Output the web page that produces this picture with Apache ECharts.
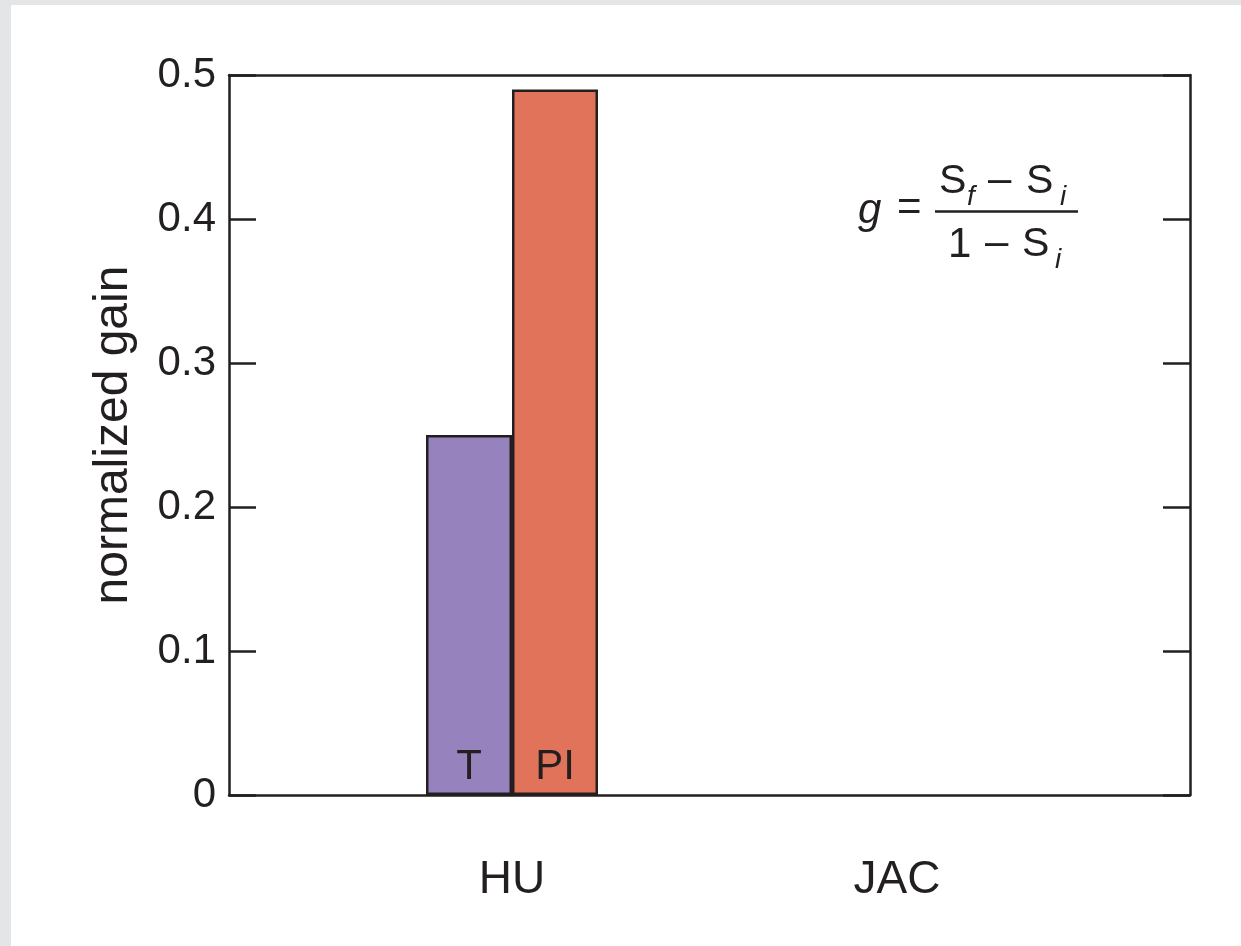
<!DOCTYPE html>
<html>
<head>
<meta charset="utf-8">
<script src="https://cdn.jsdelivr.net/npm/echarts@6/dist/echarts.min.js"></script>
<style>
html,body{margin:0;padding:0;background:#e4e5e6;}
#chart{position:absolute;left:11px;top:5px;width:1230px;height:941px;background:#ffffff;}
</style>
</head>
<body>
<div id="chart"></div>
<script>
// ---- data ----
var categories = ['HU', 'JAC'];
var seriesNames = ['T', 'PI'];
var valuesT = [0.25, '-'];
var valuesPI = [0.49, '-'];
var yTicks = [0, 0.1, 0.2, 0.3, 0.4, 0.5];
var yTitle = 'normalized gain';

var FONT = '"Liberation Sans", Arial, Helvetica, sans-serif';
var INK = '#231f20';
var chart = echarts.init(document.getElementById('chart'));

function yLabel(v) { return v === 0 ? '0' : v.toFixed(1); }

var frameLine = { show: true, onZero: false, lineStyle: { color: INK, width: 2.5 } };

var option = {
  animation: false,
  textStyle: { fontFamily: FONT, color: INK },
  grid: [
    { left: 218, right: 51, top: 70, bottom: 151, containLabel: false },
    { left: 308.5, right: 151.5, top: 70, bottom: 151, containLabel: false }
  ],
  xAxis: [
    { type: 'value', gridIndex: 0, min: 0, max: 1, position: 'bottom',
      axisLine: frameLine,
      axisTick: { show: false }, axisLabel: { show: false }, splitLine: { show: false } },
    { type: 'value', gridIndex: 0, min: 0, max: 1, position: 'top',
      axisLine: frameLine,
      axisTick: { show: false }, axisLabel: { show: false }, splitLine: { show: false } },
    { type: 'category', gridIndex: 1, data: categories,
      axisLine: { show: false }, axisTick: { show: false },
      axisLabel: { fontSize: 46, color: INK, fontFamily: FONT, margin: 62 } }
  ],
  yAxis: [
    { type: 'value', gridIndex: 0, min: yTicks[0], max: yTicks[yTicks.length - 1], interval: 0.1, position: 'left',
      name: yTitle, nameLocation: 'middle', nameGap: 91, nameRotate: 90,
      nameTextStyle: { fontSize: 48, color: INK, fontFamily: FONT },
      axisLine: frameLine,
      axisTick: { show: true, inside: true, length: 27, lineStyle: { color: INK, width: 2.5 } },
      axisLabel: { fontSize: 42, color: INK, fontFamily: FONT, margin: 13, formatter: yLabel },
      splitLine: { show: false } },
    { type: 'value', gridIndex: 0, min: yTicks[0], max: yTicks[yTicks.length - 1], interval: 0.1, position: 'right',
      axisLine: frameLine,
      axisTick: { show: true, inside: true, length: 27, lineStyle: { color: INK, width: 2.5 } },
      axisLabel: { show: false }, splitLine: { show: false } },
    { type: 'value', gridIndex: 1, min: yTicks[0], max: yTicks[yTicks.length - 1],
      show: false }
  ],
  series: [
    { name: seriesNames[0], type: 'bar', xAxisIndex: 2, yAxisIndex: 2, data: valuesT,
      barWidth: 86, barGap: '0%',
      itemStyle: { color: '#9683bd', borderColor: INK, borderWidth: 2.5 },
      label: { show: true, position: 'insideBottom', distance: 7, formatter: '{a}',
               fontSize: 42, color: INK, fontFamily: FONT } },
    { name: seriesNames[1], type: 'bar', xAxisIndex: 2, yAxisIndex: 2, data: valuesPI,
      barWidth: 86, barGap: '0%',
      itemStyle: { color: '#e0735a', borderColor: INK, borderWidth: 2.5 },
      label: { show: true, position: 'insideBottom', distance: 7, formatter: '{a}',
               fontSize: 42, color: INK, fontFamily: FONT } }
  ],
  graphic: [
    { type: 'text', x: 847, y: 206, style: { text: 'g', font: 'italic 42px ' + FONT, fill: INK, verticalAlign: 'middle' } },
    { type: 'text', x: 886, y: 203, style: { text: '=', font: '42px ' + FONT, fill: INK, verticalAlign: 'middle' } },
    { type: 'text', x: 928, y: 177, style: { text: 'S', font: '41px ' + FONT, fill: INK, verticalAlign: 'middle' } },
    { type: 'text', x: 956, y: 192, style: { text: 'f', font: 'italic 28px ' + FONT, fill: INK, verticalAlign: 'middle' } },
    { type: 'text', x: 977, y: 175, style: { text: '\u2013', font: '42px ' + FONT, fill: INK, verticalAlign: 'middle' } },
    { type: 'text', x: 1015, y: 177, style: { text: 'S', font: '41px ' + FONT, fill: INK, verticalAlign: 'middle' } },
    { type: 'text', x: 1049, y: 192, style: { text: 'i', font: 'italic 28px ' + FONT, fill: INK, verticalAlign: 'middle' } },
    { type: 'line', shape: { x1: 924, y1: 206.5, x2: 1067, y2: 206.5 }, style: { stroke: INK, lineWidth: 2.5 } },
    { type: 'text', x: 937, y: 240, style: { text: '1', font: '42px ' + FONT, fill: INK, verticalAlign: 'middle' } },
    { type: 'text', x: 974, y: 238, style: { text: '\u2013', font: '42px ' + FONT, fill: INK, verticalAlign: 'middle' } },
    { type: 'text', x: 1011, y: 240, style: { text: 'S', font: '41px ' + FONT, fill: INK, verticalAlign: 'middle' } },
    { type: 'text', x: 1044, y: 255, style: { text: 'i', font: 'italic 28px ' + FONT, fill: INK, verticalAlign: 'middle' } }
  ]
};
chart.setOption(option);
</script>
</body>
</html>
